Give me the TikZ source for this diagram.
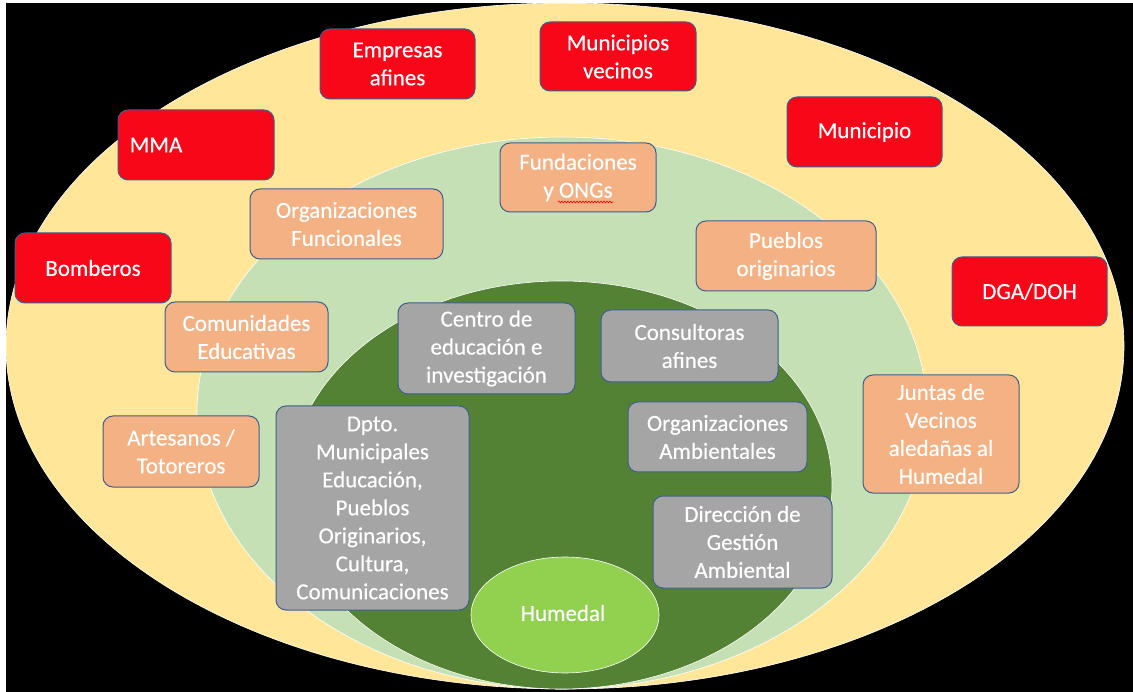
\documentclass[tikz,border=0pt]{standalone}
\usepackage{fontspec}
\setmainfont{Carlito}
\newfontfamily\boxfont{Carlito}[FakeBold=0.35]
\usetikzlibrary{decorations.pathmorphing}
\definecolor{yel}{HTML}{FFE699}
\definecolor{lgr}{HTML}{C5E0B4}
\definecolor{dgr}{HTML}{548235}
\definecolor{hum}{HTML}{92D050}
\definecolor{redb}{RGB}{247,7,24}
\definecolor{orb}{HTML}{F4B183}
\definecolor{grb}{HTML}{A5A5A5}
\definecolor{edge}{HTML}{3D5F8F}
\tikzset{
  box/.style={draw=edge, line width=1pt, rounded corners=10pt, inner sep=0pt,
    text=white, align=center, font=\boxfont\fontsize{23}{28}\selectfont},
  redbox/.style={box, fill=redb},
  orbox/.style={box, fill=orb},
  grbox/.style={box, fill=grb},
  txt/.style={text=white, inner sep=0pt, font=\boxfont\fontsize{23}{28}\selectfont},
  ring/.style={draw=white, line width=0.6pt}
}
\begin{document}
\begin{tikzpicture}[x=1pt,y=-1pt]
\useasboundingbox (0,0) rectangle (1133,692);
\fill[white] (0,0) rectangle (1133,692);
\fill[black] (6,3) rectangle (1133,692);
% rings
\draw[ring, fill=yel] (565,346) ellipse [x radius=559, y radius=343];
\draw[ring, fill=lgr] (562,413) ellipse [x radius=365, y radius=276];
\draw[ring, fill=dgr] (561,485) ellipse [x radius=271, y radius=204];
\draw[ring, fill=hum] (565,615) ellipse [x radius=94, y radius=58];
\node[txt] (humedal) at (563,613) {Humedal};
% red boxes
\node[redbox, minimum width=155pt, minimum height=70pt] (emp) at (397.5,64) {Empresas\\afines};
\node[redbox, minimum width=156pt, minimum height=69pt] (munv) at (618,56.5) {Municipios\\vecinos};
\node[redbox, minimum width=156pt, minimum height=70pt] (mma) at (196,145) {};
\node[txt, anchor=west] (mmat) at ([xshift=12pt]mma.west) {MMA};
\node[redbox, minimum width=155pt, minimum height=70pt] (munic) at (864.5,132) {Municipio};
\node[redbox, minimum width=156pt, minimum height=70pt] (bomb) at (93,268) {Bomberos};
\node[redbox, minimum width=155pt, minimum height=69pt] (dga) at (1029.5,291.5) {DGA/DOH};
% orange boxes
\node[orbox, minimum width=156pt, minimum height=69pt] (fund) at (578,177.5) {Fundaciones\\y ONGs};
\coordinate (sqa) at (558,202);
\coordinate (sqb) at (613,202);
\draw[red, line width=0.6pt, decorate, decoration={snake, segment length=3pt, amplitude=0.9pt}] (sqa) -- (sqb);
\node[orbox, minimum width=193pt, minimum height=70pt] (orgf) at (346.5,224) {Organizaciones\\Funcionales};
\node[orbox, minimum width=180pt, minimum height=70pt] (pueb) at (786,256) {Pueblos\\originarios};
\node[orbox, minimum width=163pt, minimum height=70pt] (comu) at (246.5,337) {Comunidades\\Educativas};
\node[orbox, minimum width=156pt, minimum height=71pt] (art) at (181,451.5) {Artesanos /\\Totoreros};
\node[orbox, minimum width=156pt, minimum height=118pt] (juntas) at (941,434) {Juntas de\\Vecinos\\aledañas al\\Humedal};
% gray boxes
\node[grbox, minimum width=177pt, minimum height=91pt] (centro) at (486.5,348.5) {Centro de\\educación e\\investigación};
\node[grbox, minimum width=177pt, minimum height=72pt] (cons) at (689.5,346) {Consultoras\\afines};
\node[grbox, minimum width=179pt, minimum height=70pt] (orga) at (717.5,437) {Organizaciones\\Ambientales};
\node[grbox, minimum width=193pt, minimum height=204pt] (dpto) at (372.5,508) {Dpto.\\Municipales\\Educación,\\Pueblos\\Originarios,\\Cultura,\\Comunicaciones};
\node[grbox, minimum width=179pt, minimum height=92pt] (dir) at (742.5,542) {Dirección de\\Gestión\\Ambiental};
\end{tikzpicture}
\end{document}
